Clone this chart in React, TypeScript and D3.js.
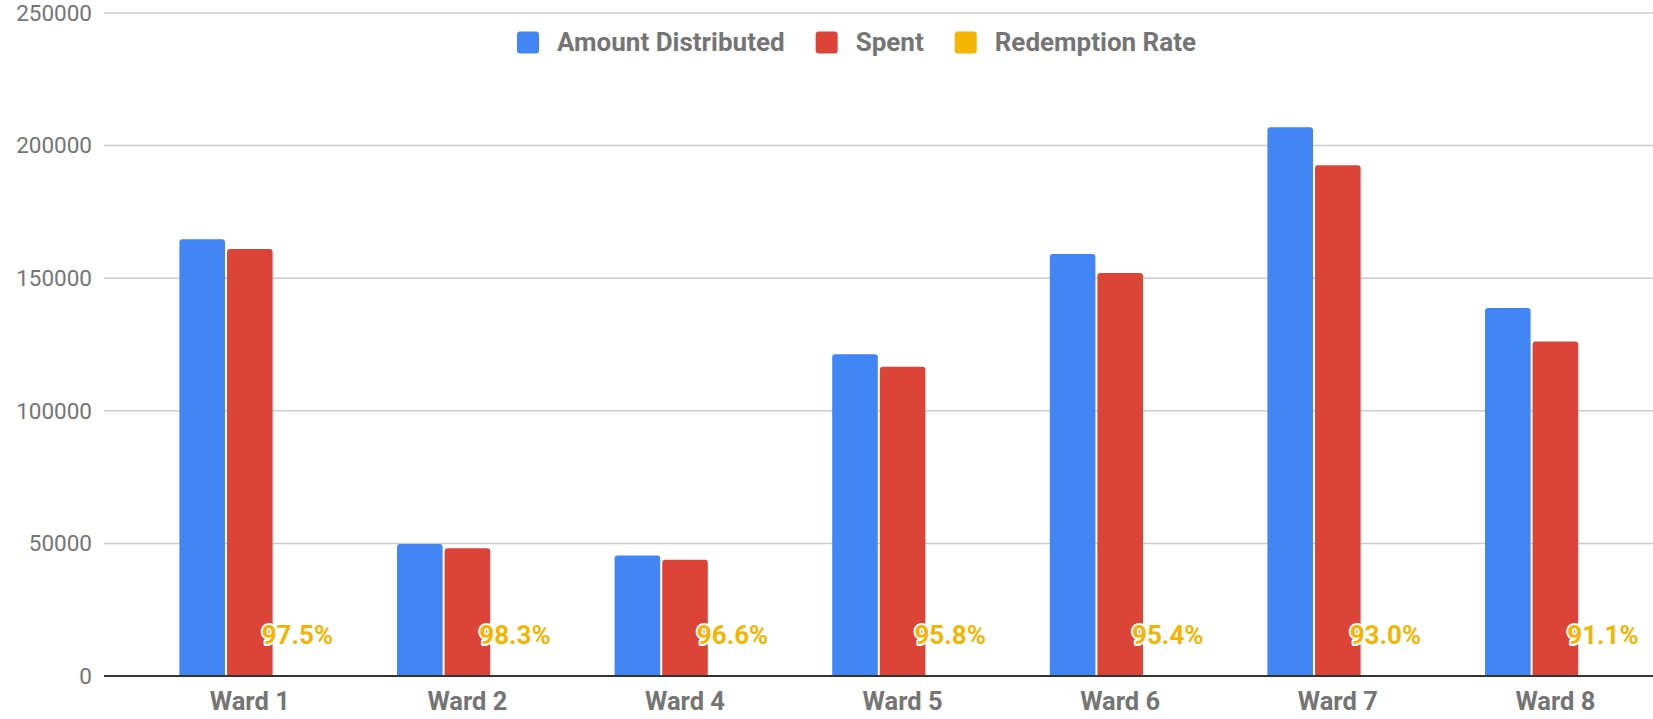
import React, { useEffect, useRef } from "react";
import * as d3 from "d3";

const wards = ["Ward 1", "Ward 2", "Ward 4", "Ward 5", "Ward 6", "Ward 7", "Ward 8"];
const distributed = [164700, 49800, 45400, 121300, 159100, 206900, 138800];
const spent = [161000, 48200, 43800, 116600, 152000, 192600, 126100];
const rates = [0.975, 0.983, 0.966, 0.958, 0.954, 0.93, 0.911];
const seriesNames = ["Amount Distributed", "Spent", "Redemption Rate"];
const seriesColors = ["#4285F4", "#DB4437", "#F4B400"];
const yTicks = [0, 50000, 100000, 150000, 200000, 250000];

const W = 1653;
const H = 719;
const FONT = "Roboto, 'Noto Sans', sans-serif";

function topRoundedRect(x: number, y: number, w: number, h: number, r: number) {
  const rr = Math.min(r, h, w / 2);
  return `M${x},${y + h}V${y + rr}Q${x},${y} ${x + rr},${y}H${x + w - rr}Q${x + w},${y} ${x + w},${y + rr}V${y + h}Z`;
}

export default function App() {
  const ref = useRef<SVGSVGElement>(null);
  useEffect(() => {
    const svg = d3.select(ref.current);
    svg.selectAll("*").remove();

    const y = d3.scaleLinear().domain([0, 250000]).range([676, 13]);
    const x = d3.scaleBand<string>().domain(wards).range([141, 1664.2]).paddingInner(0.353).paddingOuter(0.1765);
    const xs = d3.scaleBand<number>().domain([0, 1, 2]).range([0, x.bandwidth()]).paddingInner(0.042).paddingOuter(0);

    // gridlines
    const grid = svg.append("g");
    grid.selectAll("line").data(yTicks.filter((t) => t > 0)).join("line")
      .attr("x1", 104).attr("x2", W)
      .attr("y1", (d) => y(d)).attr("y2", (d) => y(d))
      .attr("stroke", "#cccccc").attr("stroke-width", 1.5);

    // y labels
    svg.append("g").selectAll("text").data(yTicks).join("text")
      .attr("x", 92).attr("y", (d) => y(d))
      .attr("dy", "0.35em")
      .attr("text-anchor", "end")
      .attr("font-family", FONT).attr("font-size", 22.5)
      .attr("fill", "#757575")
      .text((d) => String(d));

    // bars
    const series = [distributed, spent];
    const bars = svg.append("g");
    series.forEach((vals, si) => {
      bars.selectAll(null).data(vals).join("path")
        .attr("d", (d, i) => {
          const bx = (x(wards[i]) as number) + (xs(si) as number);
          const by = y(d);
          return topRoundedRect(bx, by, xs.bandwidth(), y(0) - by, 3);
        })
        .attr("fill", seriesColors[si]);
    });

    // baseline
    svg.append("line").attr("x1", 104).attr("x2", W).attr("y1", y(0)).attr("y2", y(0))
      .attr("stroke", "#333333").attr("stroke-width", 2);

    // rate labels
    svg.append("g").selectAll("text").data(rates).join("text")
      .attr("x", (d, i) => (x(wards[i]) as number) + (xs(2) as number) + xs.bandwidth() / 2)
      .attr("y", y(0) - 32)
      .attr("text-anchor", "middle")
      .attr("font-family", FONT).attr("font-size", 26).attr("font-weight", "bold")
      .attr("fill", seriesColors[2])
      .attr("stroke", "#ffffff").attr("stroke-width", 4).attr("stroke-linejoin", "round")
      .attr("paint-order", "stroke")
      .text((d) => (d * 100).toFixed(1) + "%");

    // x labels
    svg.append("g").selectAll("text").data(wards).join("text")
      .attr("x", (d) => (x(d) as number) + x.bandwidth() / 2)
      .attr("y", 710)
      .attr("text-anchor", "middle")
      .attr("font-family", FONT).attr("font-size", 25.5).attr("font-weight", "bold")
      .attr("fill", "#757575")
      .text((d) => d);

    // legend
    const leg = svg.append("g");
    let lx = 517;
    seriesNames.forEach((name, i) => {
      leg.append("rect").attr("x", lx).attr("y", 31.5).attr("width", 22).attr("height", 22)
        .attr("rx", 3).attr("fill", seriesColors[i]);
      const t = leg.append("text").attr("x", lx + 40).attr("y", 50.5)
        .attr("font-family", FONT).attr("font-size", 26).attr("font-weight", "bold")
        .attr("fill", "#757575").text(name);
      const tw = (t.node() as SVGTextElement).getComputedTextLength();
      lx = lx + 40 + tw + 31;
    });
  }, []);

  return (
    <svg ref={ref} width={W} height={H}
      style={{ position: "absolute", left: 0, top: 0, background: "#ffffff", display: "block" }} />
  );
}
